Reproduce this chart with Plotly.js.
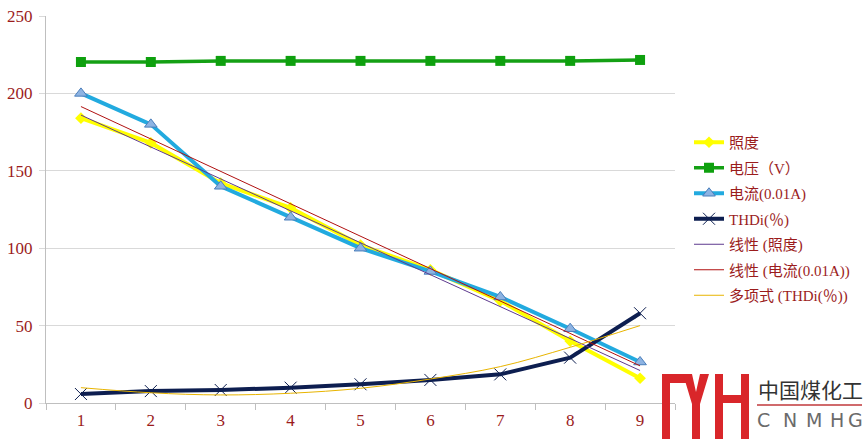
<!DOCTYPE html>
<html>
<head>
<meta charset="utf-8">
<script src="https://cdn.plot.ly/plotly-3.0.1.min.js"></script>
<style>html,body{margin:0;padding:0;background:#fff;}#chart{width:867px;height:439px;}</style>
</head>
<body>
<div id="chart"></div>
<script>
// ---- data ----
const categories = ['1','2','3','4','5','6','7','8','9'];
const illuminance = [184, 168, 142, 126, 102, 86, 66, 40, 16];          // 照度
const voltage = [220.3, 220.3, 221, 221, 221, 221, 221, 221, 221.6];    // 电压（V）
const current = [200, 180, 140, 120, 100, 85, 68.5, 48, 26.5];          // 电流(0.01A)
const thdi = [5.8, 7.7, 8.4, 9.9, 12.1, 14.9, 18.5, 29.3, 58];          // THDi(％)
const trendEndCats = ['1', '9'];
const linIlluminance = [186, 21];                                       // 线性 (照度)
const linCurrent = [191.5, 24];                                         // 线性 (电流(0.01A))
const polyThdi = [9.9, 6.6, 5.2, 6.3, 9.5, 15.5, 23.5, 36, 50];         // 多项式 (THDi(％))
const yTicks = [0, 50, 100, 150, 200, 250];
const seriesNames = ['照度', '电压（V）', '电流(0.01A)', 'THDi(％)', '线性 (照度)', '线性 (电流(0.01A))', '多项式 (THDi(％))'];

const W = 867, H = 439;
const M = {l: 46, r: 192, t: 16, b: 36};
const PW = W - M.l - M.r, PH = H - M.t - M.b;
const px = x => (x - M.l) / PW;
const py = y => (H - M.b - y) / PH;

const labelColor = '#9B1C1C';
const fontFam = '"Liberation Serif", "Times New Roman", "Noto Sans CJK SC", serif';

const traces = [
  {x: categories, y: illuminance, name: seriesNames[0], mode: 'lines+markers',
   line: {color: '#FFFF00', width: 4}, marker: {symbol: 'diamond', size: 9, color: '#FFFF00'}},
  {x: categories, y: voltage, name: seriesNames[1], mode: 'lines+markers',
   line: {color: '#14A014', width: 3.5}, marker: {symbol: 'square', size: 10, color: '#0EA00E'}},
  {x: categories, y: current, name: seriesNames[2], mode: 'lines+markers',
   line: {color: '#22AADF', width: 4}, marker: {symbol: 'triangle-up', size: 11, color: '#8DB3E2', line: {color: '#4A7EBB', width: 1}}},
  {x: categories, y: thdi, name: seriesNames[3], mode: 'lines+markers',
   line: {color: '#0D1E50', width: 4}, marker: {symbol: 'x-thin', size: 12, color: '#0D1E50', line: {color: '#0D1E50', width: 1}}},
  {x: trendEndCats, y: linIlluminance, name: seriesNames[4], mode: 'lines',
   line: {color: '#5E3A8E', width: 1}},
  {x: trendEndCats, y: linCurrent, name: seriesNames[5], mode: 'lines',
   line: {color: '#B01010', width: 1}},
  {x: categories, y: polyThdi, name: seriesNames[6], mode: 'lines',
   line: {color: '#E8B400', width: 1, shape: 'spline', smoothing: 1}}
];
traces.forEach((t, i) => { t.legendgroup = 'g' + i; });

const shapes = [];
const red = '#D9262A';
function rect(x0, y0, x1, y1) {
  shapes.push({type: 'rect', xref: 'paper', yref: 'paper', x0: px(x0), x1: px(x1), y0: py(y0), y1: py(y1),
    fillcolor: red, line: {width: 0}, layer: 'above'});
}
// watermark logo
rect(662, 374, 670, 439);
rect(662, 374, 689, 383);
rect(715, 374, 723, 439);
rect(723, 395, 741, 403);
rect(741, 374, 749, 439);
rect(692, 402, 700, 439);
const vpts = [[683,374],[692,374],[696,392],[700,374],[709,374],[700,404],[692,404]];
shapes.push({type: 'path', xref: 'paper', yref: 'paper',
  path: 'M ' + vpts.map(p => px(p[0]) + ',' + py(p[1])).join(' L ') + ' Z',
  fillcolor: red, line: {width: 0}, layer: 'above'});
shapes.push({type: 'line', xref: 'paper', yref: 'paper', x0: px(757), x1: px(862), y0: py(405), y1: py(405),
  line: {color: '#C0393B', width: 1.5}, layer: 'above'});

const annotations = [
  {xref: 'paper', yref: 'paper', x: px(756), y: py(389), xanchor: 'left', yanchor: 'middle', showarrow: false,
   text: '中国煤化工', font: {family: '"Noto Sans CJK SC", sans-serif', size: 21, color: '#333333'}}
];
const letters = ['C','N','M','H','G'];
const letterX = [763.5, 790, 813.5, 836.5, 855.5];
letters.forEach((c, i) => annotations.push({xref: 'paper', yref: 'paper', x: px(letterX[i]), y: py(420),
  xanchor: 'center', yanchor: 'middle', showarrow: false, text: c,
  font: {family: '"DejaVu Sans", sans-serif', size: 19, color: '#6B6B6B'}}));

const layout = {
  width: W, height: H,
  margin: M,
  paper_bgcolor: '#ffffff', plot_bgcolor: '#ffffff',
  showlegend: true,
  legend: {xref: 'container', yref: 'container', x: 689 / W, y: 1 - 126 / H, xanchor: 'left', yanchor: 'top',
    traceorder: 'grouped', tracegroupgap: 3,
    font: {family: fontFam, size: 15, color: labelColor}, bgcolor: 'rgba(0,0,0,0)', itemwidth: 30},
  xaxis: {type: 'category', range: [-0.5, 8.5], tickson: 'boundaries', ticks: 'outside', ticklen: 6, tickcolor: '#BFBFBF',
    showline: true, linecolor: '#BFBFBF', linewidth: 1, showgrid: false, zeroline: false, automargin: false,
    ticklabelstandoff: 2,
    tickfont: {family: fontFam, size: 17, color: labelColor}, fixedrange: true},
  yaxis: {range: [0, 250], tickvals: yTicks, ticks: 'outside', ticklen: 6, tickcolor: '#D9D9D9',
    showline: true, linecolor: '#BFBFBF', linewidth: 1, gridcolor: '#D9D9D9', gridwidth: 1, zeroline: false,
    automargin: false, ticklabelstandoff: 3, tickfont: {family: fontFam, size: 17, color: labelColor}},
  shapes: shapes,
  annotations: annotations
};

Plotly.newPlot('chart', traces, layout, {displayModeBar: false, staticPlot: true});
</script>
</body>
</html>
